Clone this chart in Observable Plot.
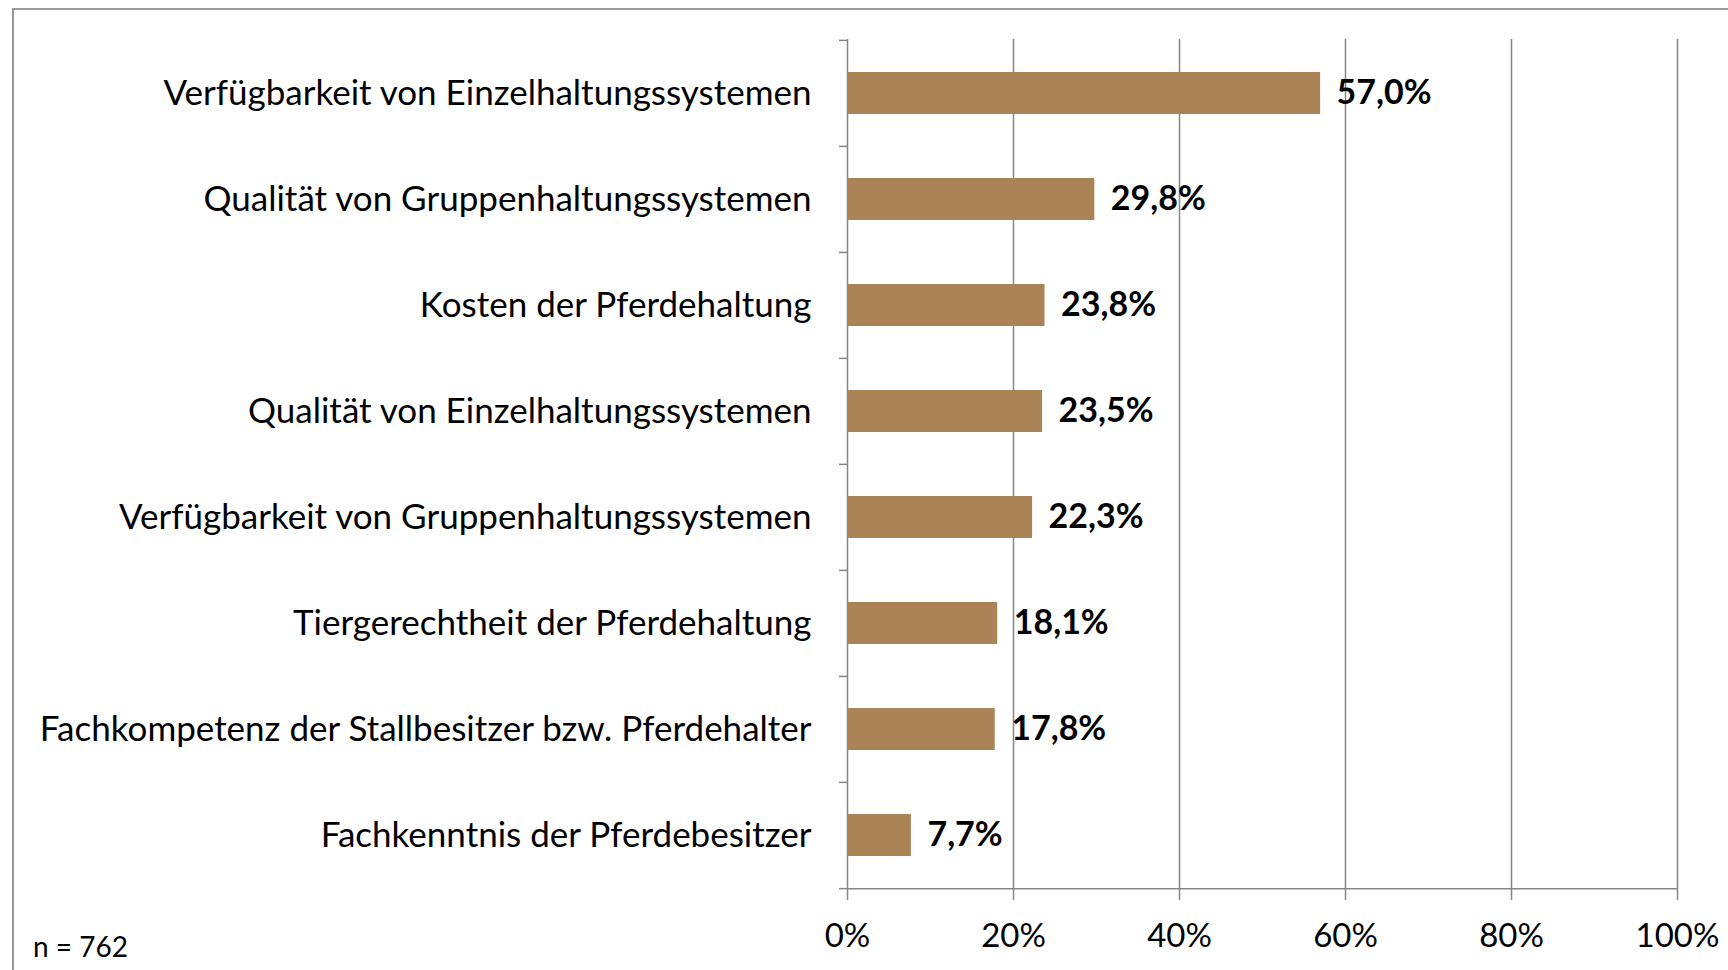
<!DOCTYPE html>
<html>
<head>
<meta charset="utf-8">
<script src="https://cdn.jsdelivr.net/npm/d3@7"></script>
<script src="https://cdn.jsdelivr.net/npm/@observablehq/plot@0.6"></script>
<style>
  html, body { margin: 0; padding: 0; background: #fff; }
  #wrap { position: relative; width: 1728px; height: 970px; overflow: hidden; font-family: Lato, sans-serif; }
  #frame { position: absolute; left: 12px; top: 8px; width: 1800px; height: 1000px; border-left: 2px solid #999; border-top: 2px solid #999; box-sizing: border-box; }
  #chart { position: absolute; left: 0; top: 0; }
  #note { position: absolute; left: 33px; top: 929px; font-size: 28px; color: #000; font-family: Lato, sans-serif; }
</style>
</head>
<body>
<div id="wrap">
  <div id="frame"></div>
  <div id="chart"></div>
  <div id="note">n = 762</div>
</div>
<script>
const categories = [
  "Verfügbarkeit von Einzelhaltungssystemen",
  "Qualität von Gruppenhaltungssystemen",
  "Kosten der Pferdehaltung",
  "Qualität von Einzelhaltungssystemen",
  "Verfügbarkeit von Gruppenhaltungssystemen",
  "Tiergerechtheit der Pferdehaltung",
  "Fachkompetenz der Stallbesitzer bzw. Pferdehalter",
  "Fachkenntnis der Pferdebesitzer"
];
const values = [57.0, 29.8, 23.8, 23.5, 22.3, 18.1, 17.8, 7.7];
const xTicks = [0, 20, 40, 60, 80, 100];

const data = categories.map((c, i) => ({category: c, value: values[i]}));

const W = 1728, H = 970;
const mTop = 39, mBottom = 81, mLeft = 847, mRight = 51;
const half = (H - mTop - mBottom) / categories.length / 2;
const gray = "#868686";
const fmt = v => v.toFixed(1).replace(".", ",") + "%";

const chart = Plot.plot({
  width: W,
  height: H,
  marginTop: mTop,
  marginBottom: mBottom,
  marginLeft: mLeft,
  marginRight: mRight,
  style: {fontFamily: "Lato, sans-serif", color: "#000", background: "transparent"},
  x: {domain: [0, 100], label: null},
  y: {domain: categories, paddingInner: 0.605, paddingOuter: 0.3025, label: null},
  marks: [
    Plot.gridX(xTicks.slice(1), {stroke: gray, strokeOpacity: 1, strokeWidth: 1.5}),
    Plot.ruleX([0], {stroke: gray, strokeWidth: 1.5}),
    Plot.ruleY([categories[categories.length - 1]], {dy: half, stroke: gray, strokeWidth: 1.5}),
    Plot.axisY({text: null, tickSize: 8, dy: -half, stroke: gray, strokeWidth: 1.5, label: null}),
    Plot.axisY({ticks: [categories[categories.length - 1]], text: null, tickSize: 8, dy: half, stroke: gray, strokeWidth: 1.5, label: null}),
    Plot.axisY({tickSize: 0, tickPadding: 36, fontSize: 35, label: null}),
    Plot.axisX({ticks: xTicks, tickFormat: d => d + "%", tickSize: 11, tickPadding: 23, fontSize: 33, label: null, stroke: gray, strokeWidth: 1.5}),
    Plot.barX(data, {x: "value", y: "category", fill: "#AA8457"}),
    Plot.text(data, {x: "value", y: "category", text: d => fmt(d.value), textAnchor: "start", dx: 16, fontSize: 34, fontWeight: "bold", fill: "#000"})
  ]
});
document.getElementById("chart").appendChild(chart);
</script>
</body>
</html>
